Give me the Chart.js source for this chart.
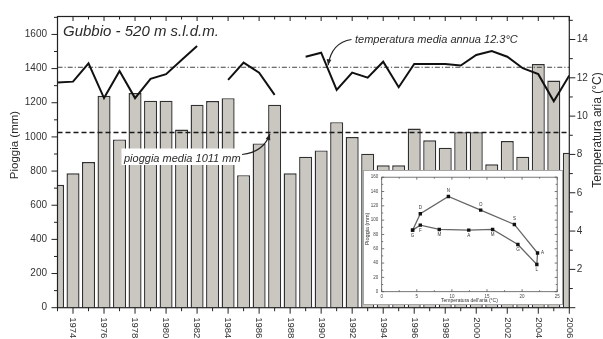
<!DOCTYPE html>
<html>
<head>
<meta charset="utf-8">
<script src="https://cdn.jsdelivr.net/npm/chart.js@4.4.1/dist/chart.umd.min.js"></script>
<style>
  html, body { margin: 0; padding: 0; background: #fff; }
  #wrap { position: relative; width: 603px; height: 339px; overflow: hidden; }
  #mainChart { position: absolute; left: 0; top: 0; }
  #insetBox { position: absolute; left: 363px; top: 170px; width: 198px; height: 133px;
              background: #fff; border: 1px solid #a5a5a5; }
  #insetChart { display: block; }
</style>
</head>
<body>
<div id="wrap">
  <canvas id="mainChart" width="603" height="339"></canvas>
  <div id="insetBox"><canvas id="insetChart" width="198" height="133"></canvas></div>
</div>
<script>
// anni di osservazione
const years = [1973, 1974, 1975, 1976, 1977, 1978, 1979, 1980, 1981, 1982, 1983, 1984,
               1985, 1986, 1987, 1988, 1989, 1990, 1991, 1992, 1993, 1994, 1995, 1996,
               1997, 1998, 1999, 2000, 2001, 2002, 2003, 2004, 2005, 2006];
// pioggia annua (mm)
const rainfall = [720, 787, 853, 1241, 985, 1257, 1212, 1212, 1043, 1189, 1210, 1227,
                  776, 962, 1189, 787, 884, 921, 1086, 999, 902, 834, 834, 1049,
                  980, 937, 1028, 1028, 840, 976, 884, 1427, 1330, 907];
// temperatura media annua (°C), null = dato mancante
const temperature = [11.75, 11.8, 12.76, 10.94, 12.36, 10.94, 11.95, 12.19, 12.93, 13.66, null, 11.89,
                     12.79, 12.27, 11.11, null, 13.1, 13.31, 11.37, 12.27, 12.01, 12.84, 11.51, 12.72,
                     12.72, 12.72, 12.64, 13.19, 13.4, 13.1, 12.5, 12.19, 10.77, 12.12];

const rainMeanLevel = 1026;
const tempMeanLevel = 12.55;
const stationLabel = 'Gubbio - 520 m s.l.d.m.';
const rainMeanLabel = 'pioggia media 1011 mm';
const tempMeanLabel = 'temperatura media annua 12.3°C';

// inserto: regime mensile
const monthLetters = ['G', 'F', 'M', 'A', 'M', 'G', 'L', 'A', 'S', 'O', 'N', 'D'];
const monthTemp = [4.4, 5.5, 8.2, 12.4, 15.8, 19.4, 22.1, 22.2, 18.9, 14.1, 9.5, 5.5];
const monthRain = [86, 93, 87, 86, 87, 66, 38, 54, 94, 114, 133, 109];

const FONT = '"Liberation Sans", Arial, Helvetica, sans-serif';
Chart.defaults.font.family = FONT;

function line(ctx, x0, y0, x1, y1) {
    ctx.beginPath();
    ctx.moveTo(x0, y0);
    ctx.lineTo(x1, y1);
    ctx.stroke();
}

function curvedArrow(ctx, x0, y0, cx, cy, x1, y1) {
    ctx.beginPath();
    ctx.moveTo(x0, y0);
    ctx.quadraticCurveTo(cx, cy, x1, y1);
    ctx.stroke();
    const a = Math.atan2(y1 - cy, x1 - cx);
    const len = 6, half = 2.4;
    ctx.beginPath();
    ctx.moveTo(x1, y1);
    ctx.lineTo(x1 - len * Math.cos(a) + half * Math.sin(a), y1 - len * Math.sin(a) - half * Math.cos(a));
    ctx.lineTo(x1 - len * Math.cos(a) - half * Math.sin(a), y1 - len * Math.sin(a) + half * Math.cos(a));
    ctx.closePath();
    ctx.fill();
}

const mainDecor = {
    id: 'mainDecor',
    afterDatasetDraw(chart, args) {
        if (args.meta.type !== 'bar') return;
        const ctx = chart.ctx;
        const {left, right} = chart.chartArea;
        const yRain = chart.scales.yP.getPixelForValue(rainMeanLevel);
        const yTemp = chart.scales.yT.getPixelForValue(tempMeanLevel);
        ctx.save();
        ctx.strokeStyle = '#1a1a1a';
        ctx.lineWidth = 1.4;
        ctx.setLineDash([5, 3]);
        line(ctx, left, yRain, right, yRain);
        ctx.strokeStyle = '#444';
        ctx.lineWidth = 1;
        ctx.setLineDash([5, 2, 1.2, 2]);
        line(ctx, left, yTemp, right, yTemp);
        ctx.restore();
    },
    afterDraw(chart) {
        const ctx = chart.ctx;
        const xs = chart.scales.x, yp = chart.scales.yP, yt = chart.scales.yT;
        const {left, right, top, bottom} = chart.chartArea;
        const X = yr => xs.getPixelForValue(yr - years[0]);
        ctx.save();

        // cornice
        ctx.strokeStyle = '#222';
        ctx.lineWidth = 1.2;
        ctx.strokeRect(left, top, right - left, bottom - top);

        // tacche asse x + etichette ruotate
        ctx.lineWidth = 1;
        ctx.fillStyle = '#333';
        ctx.font = '9.5px ' + FONT;
        years.forEach((yr, i) => {
            const x = xs.getPixelForValue(i);
            const major = yr % 2 === 0;
            line(ctx, x, bottom, x, bottom + (major ? 6 : 3.5));
            line(ctx, x, top, x, top + (major ? 4.5 : 3));
            if (major) {
                ctx.save();
                ctx.translate(x, bottom + 9.5);
                ctx.rotate(Math.PI / 2);
                ctx.textAlign = 'left';
                ctx.textBaseline = 'middle';
                ctx.fillText(String(yr), 0, 0);
                ctx.restore();
            }
        });
        for (let v = 0; v <= yp.max; v += 100) {
            const y = yp.getPixelForValue(v);
            line(ctx, left - (v % 200 === 0 ? 6 : 3.5), y, left, y);
        }
        for (let t = 0; t <= yt.max; t += 1) {
            const y = yt.getPixelForValue(t);
            line(ctx, right, y, right + (t % 2 === 0 ? 6 : 3.5), y);
        }

        // titoli assi
        ctx.fillStyle = '#2a2a2a';
        ctx.textAlign = 'center';
        ctx.textBaseline = 'middle';
        ctx.font = '11.5px ' + FONT;
        ctx.save();
        ctx.translate(15, 145);
        ctx.rotate(-Math.PI / 2);
        ctx.fillText('Pioggia (mm)', 0, 0);
        ctx.restore();
        ctx.font = '12px ' + FONT;
        ctx.save();
        ctx.translate(chart.width - 5.5, 130);
        ctx.rotate(-Math.PI / 2);
        ctx.fillText('Temperatura aria (°C)', 0, 0);
        ctx.restore();

        // stazione
        ctx.textAlign = 'left';
        ctx.textBaseline = 'alphabetic';
        ctx.font = 'italic 15px ' + FONT;
        ctx.fillText(stationLabel, left + 5.5, top + 19.2);

        // temperatura media
        ctx.font = 'italic 11px ' + FONT;
        ctx.fillStyle = '#2a2a2a';
        ctx.fillText(tempMeanLabel, left + 297.5, top + 26.7);
        ctx.strokeStyle = '#222';
        ctx.fillStyle = '#222';
        ctx.lineWidth = 1.2;
        curvedArrow(ctx, left + 294, top + 23, left + 274, top + 26,
                    X(1990.45), yt.getPixelForValue(tempMeanLevel) - 2);

        // pioggia media
        const tx = left + 66.5, ty = top + 145;
        ctx.font = 'italic 11px ' + FONT;
        const w = ctx.measureText(rainMeanLabel).width;
        ctx.fillStyle = '#fff';
        ctx.fillRect(tx - 2.5, ty - 13, w + 5, 16.5);
        ctx.fillStyle = '#2a2a2a';
        ctx.fillText(rainMeanLabel, tx, ty);
        ctx.fillStyle = '#222';
        curvedArrow(ctx, tx + w + 1.5, ty - 7, tx + w + 23, ty - 9.5,
                    X(1986.7), yp.getPixelForValue(rainMeanLevel) + 1.5);

        ctx.restore();
    }
};

new Chart(document.getElementById('mainChart').getContext('2d'), {
    type: 'bar',
    data: {
        labels: years.map(String),
        datasets: [{
            type: 'line',
            label: 'Temperatura',
            data: temperature,
            yAxisID: 'yT',
            borderColor: '#111',
            borderWidth: 2,
            pointRadius: 0,
            spanGaps: false,
            tension: 0,
            clip: 0,
            order: 0
        }, {
            type: 'bar',
            label: 'Pioggia',
            data: rainfall,
            yAxisID: 'yP',
            backgroundColor: '#c9c7c0',
            borderColor: '#303030',
            borderWidth: 1.4,
            barPercentage: 0.84,
            categoryPercentage: 1,
            clip: 0,
            order: 1
        }]
    },
    options: {
        responsive: false,
        animation: false,
        events: [],
        layout: { padding: { top: 14.3, left: 0, right: 0, bottom: 0 } },
        plugins: { legend: { display: false }, tooltip: { enabled: false } },
        scales: {
            x: {
                type: 'category',
                offset: false,
                grid: { display: false, drawTicks: false },
                border: { display: false },
                ticks: { display: false },
                afterFit: s => { s.height = 31.3; }
            },
            yP: {
                position: 'left',
                min: 0,
                max: 1705,
                grid: { display: false, drawTicks: false },
                border: { display: false },
                ticks: {
                    stepSize: 200, includeBounds: false, padding: 10.5, color: '#333', font: { size: 10 },
                    callback: v => String(v)
                },
                afterFit: s => { s.width = 57.5; }
            },
            yT: {
                position: 'right',
                min: 0,
                max: 15.2,
                grid: { display: false, drawTicks: false },
                border: { display: false },
                ticks: {
                    stepSize: 2, includeBounds: false, padding: 7.4, color: '#333', font: { size: 10 },
                    callback: v => (v === 0 ? '' : String(v))
                },
                afterFit: s => { s.width = 33.7; }
            }
        }
    },
    plugins: [mainDecor]
});

// ---------- inserto ----------
const insetDecor = {
    id: 'insetDecor',
    afterDraw(chart) {
        const ctx = chart.ctx;
        const xs = chart.scales.x, ys = chart.scales.y;
        const {left, right, top, bottom} = chart.chartArea;
        ctx.save();
        ctx.strokeStyle = '#555';
        ctx.lineWidth = 0.8;
        ctx.strokeRect(left, top, right - left, bottom - top);
        for (let v = 0; v <= 25; v += 2.5) {
            const x = xs.getPixelForValue(v);
            const l = v % 5 === 0 ? 2.5 : 1.5;
            line(ctx, x, bottom, x, bottom - l);
            line(ctx, x, top, x, top + l);
        }
        for (let v = 0; v <= 160; v += 10) {
            const y = ys.getPixelForValue(v);
            const l = v % 20 === 0 ? 2.5 : 1.5;
            line(ctx, left, y, left + l, y);
            line(ctx, right, y, right - l, y);
        }
        // lettere dei mesi
        ctx.fillStyle = '#333';
        ctx.font = '4.5px ' + FONT;
        ctx.textAlign = 'center';
        ctx.textBaseline = 'middle';
        monthLetters.forEach((m, i) => {
            const x = xs.getPixelForValue(monthTemp[i]);
            const y = ys.getPixelForValue(monthRain[i]);
            if (i <= 6) ctx.fillText(m, x, y + 5.5);
            else if (i === 7) ctx.fillText(m, x + 5, y);
            else ctx.fillText(m, x, y - 5.5);
        });
        // titoli
        ctx.font = '5px ' + FONT;
        ctx.fillText("Temperatura dell'aria (°C)", (left + right) / 2, chart.height - 3.5);
        ctx.save();
        ctx.translate(3.5, 58);
        ctx.rotate(-Math.PI / 2);
        ctx.font = '5.5px ' + FONT;
        ctx.fillText('Pioggia (mm)', 0, 0);
        ctx.restore();
        ctx.restore();
    }
};

const loop = monthTemp.map((t, i) => ({ x: t, y: monthRain[i] }));
loop.push(loop[0]);

new Chart(document.getElementById('insetChart').getContext('2d'), {
    type: 'scatter',
    data: {
        datasets: [{
            data: loop,
            showLine: true,
            borderColor: '#666',
            borderWidth: 1.3,
            pointStyle: 'rect',
            pointRadius: 2.4,
            pointBackgroundColor: '#111',
            pointBorderColor: '#111',
            pointBorderWidth: 0
        }]
    },
    options: {
        responsive: false,
        animation: false,
        events: [],
        layout: { padding: { top: 2.5, right: 1, left: 0, bottom: 0 } },
        plugins: { legend: { display: false }, tooltip: { enabled: false } },
        scales: {
            x: {
                type: 'linear', min: 0, max: 25,
                grid: { display: false, drawTicks: false },
                border: { display: false },
                ticks: { stepSize: 5, padding: 2.3, color: '#444', font: { size: 4.5 } },
                afterFit: s => { s.height = 12.3; }
            },
            y: {
                type: 'linear', min: 0, max: 160,
                grid: { display: false, drawTicks: false },
                border: { display: false },
                ticks: { stepSize: 20, padding: 3.5, color: '#444', font: { size: 4.5 } },
                afterFit: s => { s.width = 17.7; }
            }
        }
    },
    plugins: [insetDecor]
});
</script>
</body>
</html>
